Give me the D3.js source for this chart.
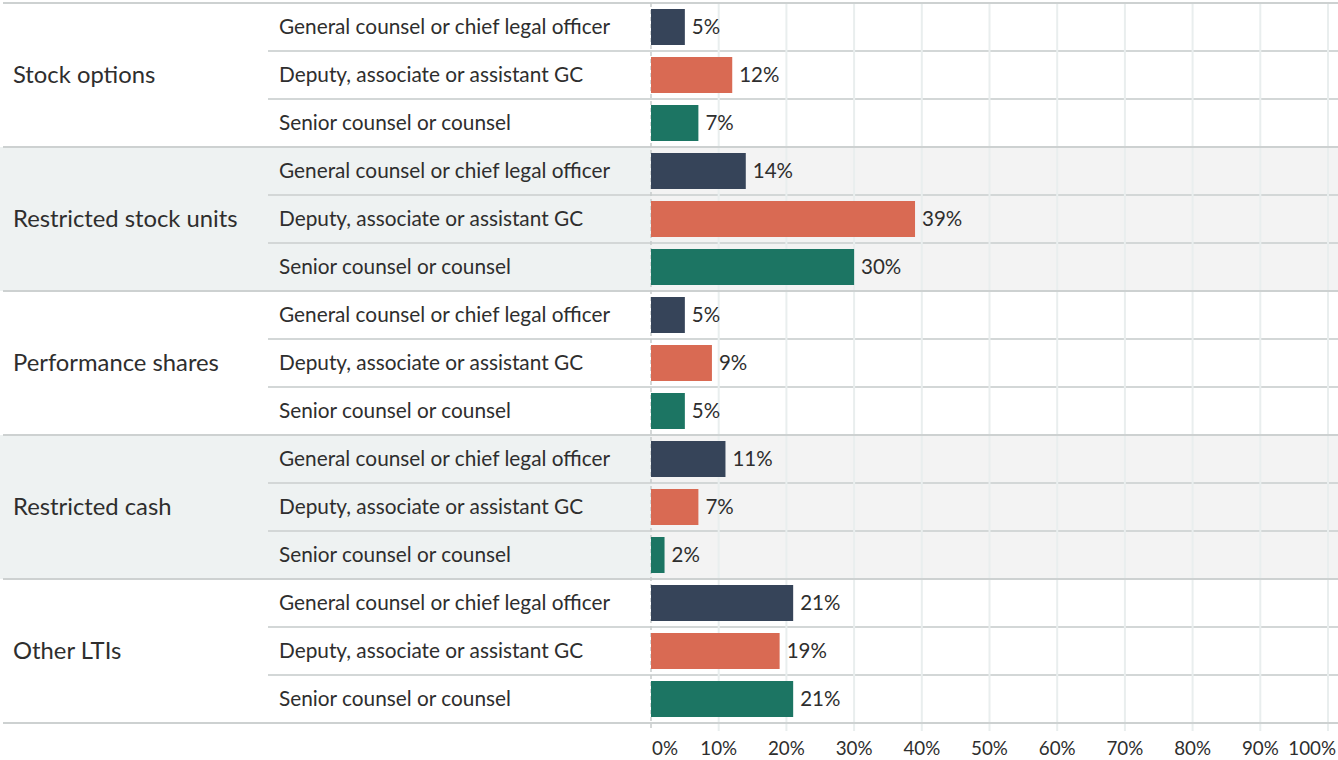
<!DOCTYPE html>
<html>
<head>
<meta charset="utf-8">
<script src="https://cdn.jsdelivr.net/npm/d3@7"></script>
<style>
  html, body { margin: 0; padding: 0; background: #ffffff; }
  svg { display: block; font-family: Lato, "Open Sans", sans-serif; }
</style>
</head>
<body>
<svg id="chart" width="1338" height="760"></svg>
<script>
const groups = ["Stock options", "Restricted stock units", "Performance shares", "Restricted cash", "Other LTIs"];
const roles = ["General counsel or chief legal officer", "Deputy, associate or assistant GC", "Senior counsel or counsel"];
const generalCounsel = [5, 14, 5, 11, 21];
const deputyGC = [12, 39, 9, 7, 19];
const seniorCounsel = [7, 30, 5, 2, 21];
const ticks = [0, 10, 20, 30, 40, 50, 60, 70, 80, 90, 100];
const tickLabels = ["0%", "10%", "20%", "30%", "40%", "50%", "60%", "70%", "80%", "90%", "100%"];
const roleColors = ["#364459", "#d96a53", "#1c7563"];

(function () {
const seriesByRole = [generalCounsel, deputyGC, seniorCounsel];
const rows = [];
groups.forEach((g, gi) => {
  roles.forEach((r, ri) => {
    rows.push({ key: g + "|" + r, group: g, gi, role: r, ri, value: seriesByRole[ri][gi] });
  });
});

const svg = d3.select("#chart");
const W = 1338;
const topY = 3, rowH = 48;
const bottomY = topY + rowH * rows.length;
const plotLeft = 651, plotRight = 1328;
const rowLineLeft = 268;
const textColor = "#2e2e2e";

const x = d3.scaleLinear().domain([0, 100]).range([plotLeft, plotRight]);
const y = d3.scaleBand().domain(rows.map(d => d.key)).range([topY, bottomY]).paddingInner(0.25).paddingOuter(0.125);
const yRow = d3.scaleBand().domain(rows.map(d => d.key)).range([topY, bottomY]);
const yGroup = d3.scaleBand().domain(groups).range([topY, bottomY]);

// alternating group backgrounds
groups.forEach((g, gi) => {
  if (gi % 2 === 1) {
    svg.append("rect").attr("x", 0).attr("y", yGroup(g)).attr("width", plotLeft).attr("height", yGroup.bandwidth()).attr("fill", "#eef2f2");
    svg.append("rect").attr("x", plotLeft).attr("y", yGroup(g)).attr("width", W - plotLeft).attr("height", yGroup.bandwidth()).attr("fill", "#f3f3f3");
  }
});

// row separator lines
rows.forEach((d) => {
  if (d.ri > 0) {
    svg.append("line").attr("x1", rowLineLeft).attr("x2", W)
      .attr("y1", yRow(d.key)).attr("y2", yRow(d.key))
      .attr("stroke", "#d3d7d7").attr("stroke-width", 2);
  }
});

// vertical gridlines
svg.append("g").selectAll("line").data(ticks.slice(1)).join("line")
  .attr("x1", d => x(d)).attr("x2", d => x(d))
  .attr("y1", topY).attr("y2", bottomY + 8)
  .attr("stroke", "#e9eeee").attr("stroke-width", 2);

// group separator lines
[topY].concat(groups.map(g => yGroup(g) + yGroup.bandwidth())).forEach(yy => {
  svg.append("line").attr("x1", 3).attr("x2", W).attr("y1", yy).attr("y2", yy)
    .attr("stroke", "#cdd1d1").attr("stroke-width", 2);
});

// zero baseline (dashed)
svg.append("line").attr("x1", x(0)).attr("x2", x(0)).attr("y1", topY).attr("y2", bottomY + 8)
  .attr("stroke", "#c8cccc").attr("stroke-width", 1.5).attr("stroke-dasharray", "4,3");

// bars
svg.append("g").selectAll("rect").data(rows).join("rect")
  .attr("x", x(0)).attr("y", d => y(d.key))
  .attr("width", d => x(d.value) - x(0)).attr("height", y.bandwidth())
  .attr("fill", d => roleColors[d.ri]);

// value labels
svg.append("g").selectAll("text").data(rows).join("text")
  .attr("x", d => x(d.value) + 7).attr("y", d => yRow(d.key) + yRow.bandwidth() / 2)
  .attr("dy", "0.35em").attr("font-size", 20.5).attr("fill", textColor)
  .text(d => d.value + "%");

// role labels
svg.append("g").selectAll("text").data(rows).join("text")
  .attr("x", 279).attr("y", d => yRow(d.key) + yRow.bandwidth() / 2)
  .attr("dy", "0.35em").attr("font-size", 20.8).attr("fill", textColor)
  .text(d => d.role);

// group labels
svg.append("g").selectAll("text").data(groups).join("text")
  .attr("x", 13).attr("y", d => yGroup(d) + yGroup.bandwidth() / 2)
  .attr("dy", "0.35em").attr("font-size", 23.8).attr("fill", textColor)
  .text(d => d);

// x axis tick labels
svg.append("g").selectAll("text").data(ticks).join("text")
  .attr("x", (d, i) => i === 0 ? x(d) + 1 : (i === ticks.length - 1 ? W - 2 : x(d)))
  .attr("y", 755)
  .attr("text-anchor", (d, i) => i === 0 ? "start" : (i === ticks.length - 1 ? "end" : "middle"))
  .attr("font-size", 18.8).attr("fill", textColor)
  .text((d, i) => tickLabels[i]);
})();
</script>
</body>
</html>
